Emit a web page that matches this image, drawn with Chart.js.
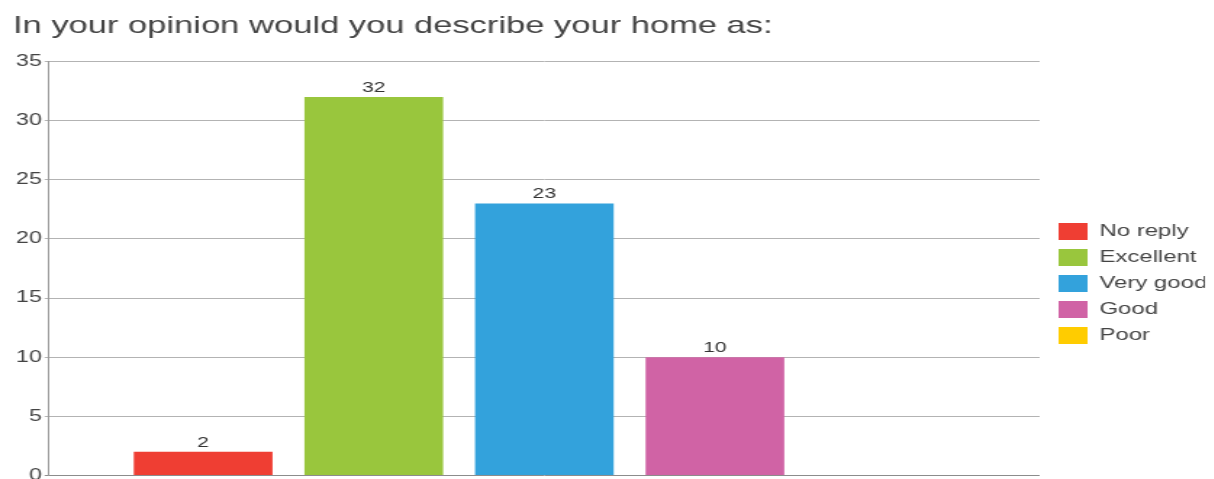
<!DOCTYPE html>
<html>
<head>
<meta charset="utf-8">
<script src="https://cdn.jsdelivr.net/npm/chart.js@4/dist/chart.umd.min.js"></script>
<style>
    html, body { margin: 0; padding: 0; overflow: hidden; background: #fff; }
    /* the source picture is stretched sideways, so draw narrow and stretch the canvas */
    #chart { display: block; transform: scaleX(1.45); transform-origin: 0 0; }
</style>
</head>
<body>
<canvas id="chart" width="840" height="487"></canvas>
<script>
const title = 'In your opinion would you describe your home as:';
const answers = ['No reply', 'Excellent', 'Very good', 'Good', 'Poor'];
const counts = [2, 32, 23, 10, 0];
const answerColors = ['#ef3e33', '#99c63d', '#33a2dc', '#d063a5', '#ffcc00'];
const yTicks = [0, 5, 10, 15, 20, 25, 30, 35];

const FONT = "'Liberation Sans', Arial, Helvetica, sans-serif";

// numbers above the bars, empty answers get no label
const barValues = {
    id: 'barValues',
    afterDatasetsDraw(chart) {
        const { ctx } = chart;
        ctx.save();
        ctx.font = `14.5px ${FONT}`;
        ctx.fillStyle = '#333';
        ctx.textAlign = 'center';
        ctx.textBaseline = 'bottom';
        chart.data.datasets.forEach((ds, i) => {
            const bar = chart.getDatasetMeta(i).data[0];
            const value = ds.data[0];
            if (!bar || !value) return;
            ctx.fillText(String(value), bar.x, bar.y - 2);
        });
        ctx.restore();
    }
};

// push the legend down/right to where the original sits
const legendNudge = {
    id: 'legendNudge',
    afterLayout(chart) {
        const legend = chart.legend;
        if (!legend) return;
        legend.top += 40;
        legend.bottom += 40;
        legend.left += 4;
        legend.right += 4;
    }
};

const datasets = answers.map((name, i) => ({
    label: name,
    data: [counts[i]],
    backgroundColor: answerColors[i],
    borderWidth: 0,
    categoryPercentage: 0.861,
    barPercentage: 0.813
}));

new Chart(document.getElementById('chart'), {
    type: 'bar',
    data: { labels: [''], datasets },
    options: {
        responsive: false,
        animation: false,
        devicePixelRatio: 1,
        layout: { padding: { left: 9, right: 13, top: 0, bottom: 0 } },
        plugins: {
            title: {
                display: true,
                text: title,
                align: 'start',
                color: '#444',
                font: { family: FONT, size: 23.8, weight: 'normal' },
                padding: { top: 12, bottom: 21 }
            },
            legend: {
                position: 'right',
                maxWidth: 110,
                labels: {
                    color: '#444',
                    font: { family: FONT, size: 16.5 },
                    boxWidth: 20,
                    boxHeight: 17,
                    padding: 9
                }
            },
            tooltip: { enabled: false }
        },
        scales: {
            x: { display: false },
            y: {
                min: 0,
                max: 35,
                afterBuildTicks: (scale) => { scale.ticks = yTicks.map(v => ({ value: v })); },
                ticks: {
                    color: '#444',
                    padding: 2,
                    font: { family: FONT, size: 16 }
                },
                grid: {
                    color: (c) => (c.tick && c.tick.value === 0 ? '#8c8c8c' : '#b3b3b3'),
                    tickLength: 3
                },
                border: { color: '#9a9a9a', width: 1 }
            }
        }
    },
    plugins: [barValues, legendNudge]
});
</script>
</body>
</html>
